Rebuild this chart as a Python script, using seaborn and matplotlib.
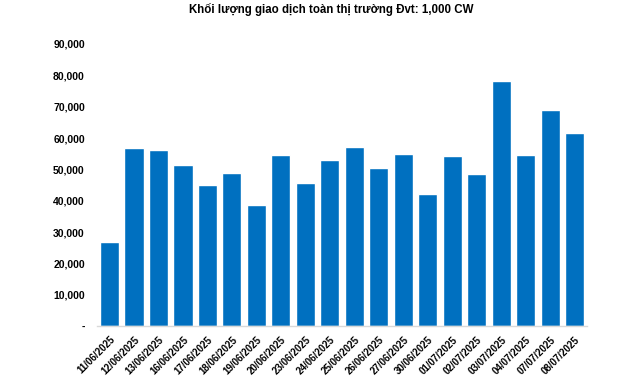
import numpy as np
import pandas as pd
import matplotlib
matplotlib.use("Agg")
import matplotlib.pyplot as plt
import seaborn as sns
from matplotlib.ticker import FuncFormatter

# -----------------------------
# Data
# -----------------------------
dates = ["11/06/2025", "12/06/2025", "13/06/2025", "16/06/2025", "17/06/2025",
         "18/06/2025", "19/06/2025", "20/06/2025", "23/06/2025", "24/06/2025",
         "25/06/2025", "26/06/2025", "27/06/2025", "30/06/2025", "01/07/2025",
         "02/07/2025", "03/07/2025", "04/07/2025", "07/07/2025", "08/07/2025"]
volume = [26900, 56800, 56150, 51400, 45000,
          48800, 38600, 54550, 45650, 52950,
          57100, 50400, 54850, 42150, 54250,
          48500, 78100, 54550, 68900, 61550]
title = "Khối lượng giao dịch toàn thị trường Đvt: 1,000 CW"
bar_color = "#0070C0"

df = pd.DataFrame({"date": dates, "volume": volume})

# -----------------------------
# Plot
# -----------------------------
sns.set_theme(style="white")
plt.rcParams["font.family"] = ["Liberation Sans", "DejaVu Sans"]
plt.rcParams["text.color"] = "black"
plt.rcParams["xtick.color"] = "black"
plt.rcParams["ytick.color"] = "black"

fig = plt.figure(figsize=(6.4, 3.82), dpi=100)
ax = fig.add_axes([0.152, 0.146, 0.765, 0.739])

sns.barplot(data=df, x="date", y="volume", color=bar_color, saturation=1,
            width=0.78, ax=ax)

ax.set_ylim(0, 90000)
ax.set_xlim(-0.5, len(dates) - 0.5)
ax.set_yticks(np.arange(0, 90001, 10000))
ax.yaxis.set_major_formatter(FuncFormatter(lambda v, p: "-" if v == 0 else f"{int(v):,}"))
ax.set_xlabel("")
ax.set_ylabel("")

for side in ["top", "right", "left"]:
    ax.spines[side].set_visible(False)
ax.spines["bottom"].set_color("#d9d9d9")
ax.spines["bottom"].set_linewidth(1)

ax.tick_params(axis="y", length=0, pad=9, labelsize=7.5)
ax.tick_params(axis="x", length=0, pad=6, labelsize=7)
for lbl in ax.get_yticklabels():
    lbl.set_fontweight("bold")
for lbl in ax.get_xticklabels():
    lbl.set_fontweight("bold")
    lbl.set_rotation(45)
    lbl.set_ha("right")
    lbl.set_rotation_mode("anchor")

fig.text(0.517, 0.993, title, ha="center", va="top", fontsize=8.3, fontweight="bold")

fig.savefig("out.png", dpi=100)
